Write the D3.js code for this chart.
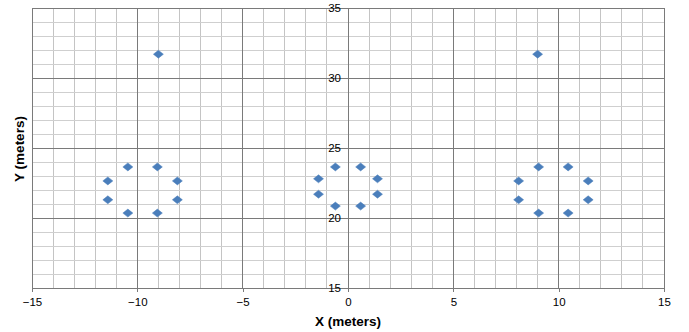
<!DOCTYPE html>
<html>
<head>
<meta charset="utf-8">
<script src="https://cdn.jsdelivr.net/npm/d3@7"></script>
<style>
  body { margin: 0; background: #fff; }
  text { font-family: "Liberation Sans", Arial, sans-serif; }
</style>
</head>
<body>
<div id="chart"></div>
<script>

// sensor positions
var xValues = [-9.0, -11.4, -10.45, -9.05, -8.1, -11.4, -10.45, -9.05, -8.1,
               -1.4, -0.6, 0.6, 1.4, -1.4, -0.6, 0.6, 1.4,
               9.0, 8.1, 9.05, 10.45, 11.4, 8.1, 9.05, 10.45, 11.4];
var yValues = [31.7, 22.65, 23.65, 23.65, 22.65, 21.3, 20.35, 20.35, 21.3,
               22.8, 23.65, 23.65, 22.8, 21.7, 20.85, 20.85, 21.7,
               31.7, 22.65, 23.65, 23.65, 22.65, 21.3, 20.35, 20.35, 21.3];

var xTicks = [-15, -10, -5, 0, 5, 10, 15];
var yTicks = [15, 20, 25, 30, 35];

var width  = 689,
    height = 332;

var plot = {left: 32, right: 664, top: 8, bottom: 288};

var x = d3.scaleLinear().domain([-15, 15]).range([plot.left, plot.right]);
var y = d3.scaleLinear().domain([15, 35]).range([plot.bottom, plot.top]);

var svg = d3.select("#chart").append("svg")
  .attr("width",  width)
  .attr("height", height);

// minor grid, every 1 metre
var grid = svg.append("g").attr("shape-rendering", "crispEdges");

grid.selectAll("line.minorX")
  .data(d3.range(-15, 16, 1))
  .enter().append("line")
  .attr("x1", function(d) { return x(d); })
  .attr("x2", function(d) { return x(d); })
  .attr("y1", plot.top)
  .attr("y2", plot.bottom)
  .attr("stroke", "#c4c4c4")
  .attr("stroke-width", 1);

grid.selectAll("line.minorY")
  .data(d3.range(15, 36, 1))
  .enter().append("line")
  .attr("x1", plot.left)
  .attr("x2", plot.right)
  .attr("y1", function(d) { return y(d); })
  .attr("y2", function(d) { return y(d); })
  .attr("stroke", "#cfcfcf")
  .attr("stroke-width", 1);

// major grid, every 5 metres
grid.selectAll("line.majorX")
  .data(xTicks)
  .enter().append("line")
  .attr("x1", function(d) { return x(d); })
  .attr("x2", function(d) { return x(d); })
  .attr("y1", plot.top)
  .attr("y2", plot.bottom)
  .attr("stroke", "#7a7a7a")
  .attr("stroke-width", 1);

grid.selectAll("line.majorY")
  .data(yTicks)
  .enter().append("line")
  .attr("x1", plot.left)
  .attr("x2", plot.right)
  .attr("y1", function(d) { return y(d); })
  .attr("y2", function(d) { return y(d); })
  .attr("stroke", "#7a7a7a")
  .attr("stroke-width", 1);

// x axis along the bottom
var xAxis = d3.axisBottom(x)
  .tickValues(xTicks)
  .tickSize(4)
  .tickPadding(6);

var gx = svg.append("g")
  .attr("transform", "translate(0," + plot.bottom + ")")
  .attr("shape-rendering", "crispEdges")
  .call(xAxis);

gx.select(".domain").attr("stroke", "#7a7a7a");
gx.selectAll(".tick line").attr("stroke", "#7a7a7a");
gx.selectAll(".tick text")
  .attr("font-size", 11.5)
  .attr("fill", "#000");

// y axis crosses at x = 0
var yAxis = d3.axisLeft(y)
  .tickValues(yTicks)
  .tickSize(4)
  .tickPadding(3);

var gy = svg.append("g")
  .attr("transform", "translate(" + x(0) + ",0)")
  .attr("shape-rendering", "crispEdges")
  .call(yAxis);

gy.select(".domain").attr("stroke", "#7a7a7a");
gy.selectAll(".tick line").attr("stroke", "#7a7a7a");
gy.selectAll(".tick text")
  .attr("font-size", 11.5)
  .attr("fill", "#000");

// the points
var points = xValues.map(function(d, i) { return [d, yValues[i]]; });

svg.selectAll("path.pt")
  .data(points)
  .enter().append("path")
  .attr("class", "pt")
  .attr("d", "M-5,0L0,-4L5,0L0,4Z")
  .attr("transform", function(d) {
    return "translate(" + x(d[0]) + "," + y(d[1]) + ")";
  })
  .attr("fill", "#4a7ebb")
  .attr("stroke", "#4a7ebb")
  .attr("stroke-width", 0.5);

// axis titles
svg.append("text")
  .attr("x", x(0))
  .attr("y", 326)
  .attr("text-anchor", "middle")
  .attr("font-size", 13.5)
  .attr("font-weight", "bold")
  .text("X (meters)");

svg.append("text")
  .attr("transform", "translate(24,149) rotate(-90)")
  .attr("text-anchor", "middle")
  .attr("font-size", 13.5)
  .attr("font-weight", "bold")
  .text("Y (meters)");

</script>
</body>
</html>
